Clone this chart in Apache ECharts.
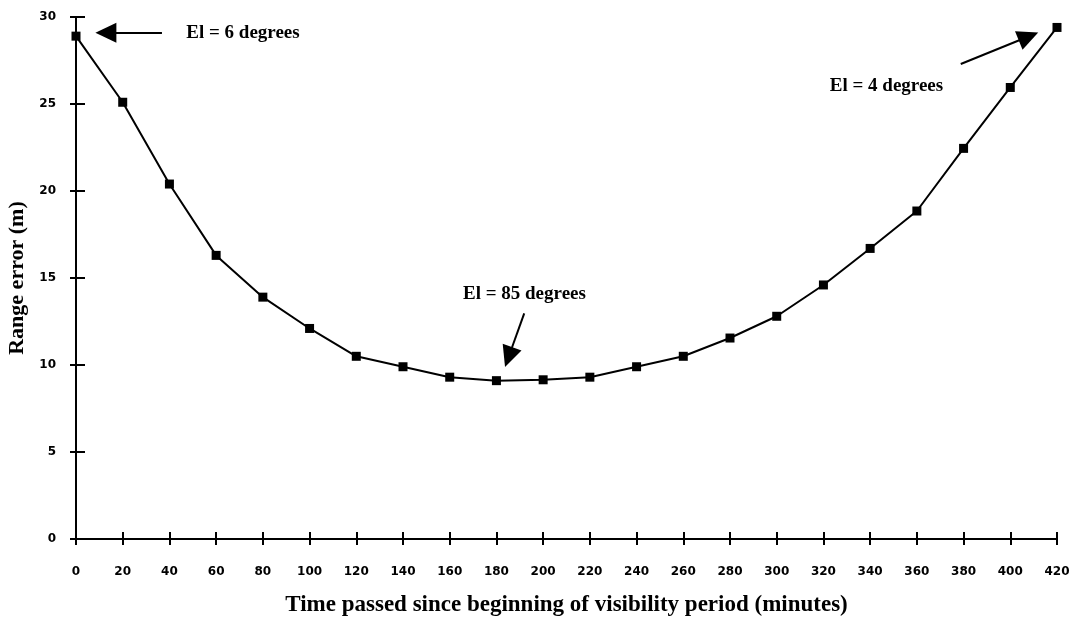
<!DOCTYPE html>
<html>
<head>
<meta charset="utf-8">
<script src="https://cdn.jsdelivr.net/npm/echarts@6/dist/echarts.min.js"></script>
<style>html,body{margin:0;padding:0;background:#fff;}#c{width:1076px;height:620px;}</style>
</head>
<body>
<div id="c"></div>
<script>
const minutes = [0,20,40,60,80,100,120,140,160,180,200,220,240,260,280,300,320,340,360,380,400,420];
const rangeError = [28.9,25.1,20.4,16.3,13.9,12.1,10.5,9.9,9.3,9.1,9.15,9.3,9.9,10.5,11.55,12.8,14.6,16.7,18.85,22.45,25.95,29.4];
const xTicks = {min:0, max:420, interval:20};
const yTicks = {min:0, max:30, interval:5};
const notes = [
  {text:'El = 6 degrees', at:[71.5,29.09], from:[36.8,29.09], to:[12.8,29.09]},
  {text:'El = 4 degrees', at:[347,26.05], from:[378.8,27.3], to:[407.8,28.88]},
  {text:'El = 85 degrees', at:[192,14.06], from:[191.9,12.97], to:[185.2,10.46]}
];

const font = '"Liberation Serif","Times New Roman",serif';
const tickFont = '"DejaVu Sans",sans-serif';
const chart = echarts.init(document.getElementById('c'), null, {renderer:'canvas'});
const data = minutes.map((m,i)=>[m, rangeError[i]]);
const axisCommon = {
  type:'value', splitLine:{show:false},
  axisLine:{show:true, lineStyle:{color:'#000', width:2}}
};
chart.setOption({
  animation:false,
  backgroundColor:'#fff',
  grid:{left:76, right:19, top:17, bottom:81, containLabel:false, outerBoundsMode:'none'},
  xAxis:[
    Object.assign({}, axisCommon, {
      min:xTicks.min, max:xTicks.max, interval:xTicks.interval,
      axisTick:{show:true, length:6, lineStyle:{color:'#000', width:2}},
      axisLabel:{margin:27, color:'#000', fontFamily:tickFont, fontWeight:'bold', fontSize:12},
      name:'Time passed since beginning of visibility period (minutes)',
      nameLocation:'middle', nameGap:55,
      nameTextStyle:{color:'#000', fontFamily:font, fontWeight:'bold', fontSize:23}
    }),
    Object.assign({}, axisCommon, {
      min:xTicks.min, max:xTicks.max, interval:xTicks.interval, position:'bottom',
      axisLine:{show:false},
      axisTick:{show:true, inside:true, length:7, lineStyle:{color:'#000', width:2}},
      axisLabel:{show:false}
    })
  ],
  yAxis:[
    Object.assign({}, axisCommon, {
      min:yTicks.min, max:yTicks.max, interval:yTicks.interval,
      axisTick:{show:true, length:6, lineStyle:{color:'#000', width:2}},
      axisLabel:{margin:20, color:'#000', fontFamily:tickFont, fontWeight:'bold', fontSize:12},
      name:'Range error (m)', nameLocation:'middle', nameGap:39, nameRotate:90,
      nameTextStyle:{color:'#000', fontFamily:font, fontWeight:'bold', fontSize:22}
    }),
    Object.assign({}, axisCommon, {
      min:yTicks.min, max:yTicks.max, interval:yTicks.interval, position:'left',
      axisLine:{show:false},
      axisTick:{show:true, inside:true, length:9, lineStyle:{color:'#000', width:2}},
      axisLabel:{show:false}
    })
  ],
  series:[{
    type:'line', data:data, xAxisIndex:0, yAxisIndex:0,
    symbol:'rect', symbolSize:9, showSymbol:true,
    lineStyle:{color:'#000', width:2},
    itemStyle:{color:'#000'},
    markLine:{
      silent:true, animation:false,
      symbol:['none','triangle'], symbolSize:[20,21],
      lineStyle:{color:'#000', width:2, type:'solid'},
      label:{show:false},
      data: notes.map(n=>[{coord:n.from},{coord:n.to}])
    },
    markPoint:{
      silent:true, animation:false,
      symbol:'circle', symbolSize:0,
      label:{show:true, position:'inside', color:'#000', fontFamily:font, fontWeight:'bold', fontSize:19,
        formatter:p=>p.name},
      data: notes.map(n=>({name:n.text, coord:n.at}))
    }
  }]
});
</script>
</body>
</html>
